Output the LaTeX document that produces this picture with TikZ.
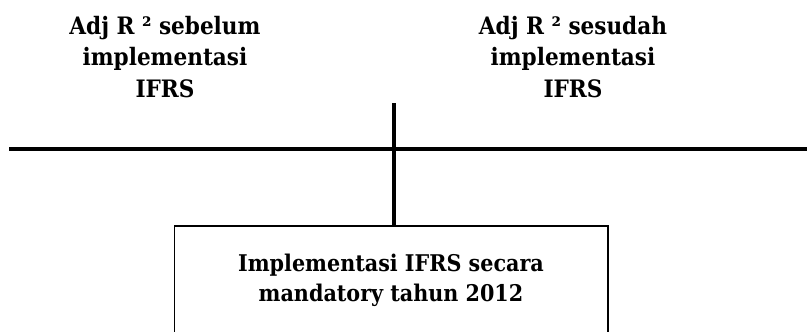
\documentclass[tikz,border=0pt]{standalone}
\usepackage{fontspec}
\setmainfont{DejaVu Serif Condensed}
\begin{document}
\begin{tikzpicture}[x=1pt,y=-1pt,
  lbl/.style={align=center,inner sep=0pt,font=\fontsize{24}{31.5}\selectfont\bfseries},
  thick line/.style={line width=4pt},
  boxstyle/.style={draw,line width=1.5pt,minimum width=433.5pt,minimum height=110pt,anchor=north west,inner sep=0pt,align=center,font=\fontsize{23}{30}\selectfont\bfseries}]
\useasboundingbox (0,0) rectangle (807,332);
\clip (0,0) rectangle (807,332);
\node[lbl] (left) at (165,57) {Adj R ² sebelum\\implementasi\\IFRS};
\node[lbl] (right) at (573,57) {Adj R ² sesudah\\implementasi\\IFRS};
\node[boxstyle] (box) at (173.5,225) {Implementasi IFRS secara\\mandatory tahun 2012};
\coordinate (hl) at (9,148.5);
\coordinate (hr) at (810,148.5);
\coordinate (vt) at (393.5,103);
\draw[thick line] (hl) -- (hr);
\draw[thick line] (vt) -- (vt |- box.north);
\end{tikzpicture}
\end{document}
